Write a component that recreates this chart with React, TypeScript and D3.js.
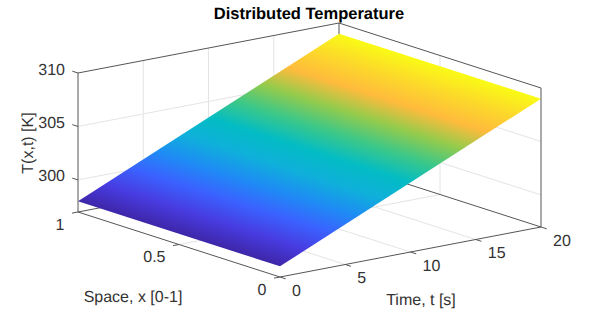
import React from 'react';
import * as d3 from 'd3';

const width = 598;
const height = 311;

// values
const timeValues = [0, 1, 2, 3, 4, 5, 6, 7, 8, 9, 10, 11, 12, 13, 14, 15, 16, 17, 18, 19, 20];
const temperature = [298, 298.55, 299.1, 299.65, 300.2, 300.75, 301.3, 301.85, 302.4, 302.95, 303.5, 304.05, 304.6, 305.15, 305.7, 306.25, 306.8, 307.35, 307.9, 308.45, 309];
const spaceRange = [0, 1];
const timeRange = [0, 20];
const tempRange = [297, 310];
const timeTicks = [0, 5, 10, 15, 20];
const spaceTicks = [0, 0.5, 1];
const tempTicks = [300, 305, 310];
const parulaStops = ['#3e26a8', '#483ce1', '#3a62ff', '#1e8cf4', '#0fb0da', '#03bcc4', '#3cc888', '#94cb4c', '#ffbb3c', '#fcd92a', '#f9fb15'];

const origin = { x: 280, y: 277 };

// orthographic view, each axis gets its own pair of screen scales
const tX = d3.scaleLinear().domain(timeRange).range([0, 261]);
const tY = d3.scaleLinear().domain(timeRange).range([0, -50]);
const sX = d3.scaleLinear().domain(spaceRange).range([0, -202]);
const sY = d3.scaleLinear().domain(spaceRange).range([0, -65]);
const zY = d3.scaleLinear().domain(tempRange).range([0, -139]);

type P = [number, number];
const project = (t: number, s: number, z: number): P => [
  origin.x + tX(t) + sX(s),
  origin.y + tY(t) + sY(s) + zY(z),
];

const tMin = timeRange[0], tMax = timeRange[1];
const sMin = spaceRange[0], sMax = spaceRange[1];
const zMin = tempRange[0], zMax = tempRange[1];

const line = d3.line<P>();

const colorDomain = d3.extent(temperature) as [number, number];
const colorT = d3.scaleLinear().domain(colorDomain).range([0, 1]);
const parula = d3.scaleLinear<string>()
  .domain(parulaStops.map((_, i) => i / (parulaStops.length - 1)))
  .range(parulaStops)
  .interpolate(d3.interpolateRgb);

// surface gradient runs across the space direction on screen
const p0 = project(tMin, sMin, temperature[0]);
const p1 = project(tMax, sMin, temperature[temperature.length - 1]);
const pS = project(tMin, sMax, temperature[0]);
const ux = pS[0] - p0[0], uy = pS[1] - p0[1];
const k = ((p1[0] - p0[0]) * ux + (p1[1] - p0[1]) * uy) / (ux * ux + uy * uy);
const gradEnd: P = [p1[0] - k * ux, p1[1] - k * uy];

const surface: P[] = [
  project(tMin, sMin, temperature[0]),
  project(tMax, sMin, temperature[temperature.length - 1]),
  project(tMax, sMax, temperature[temperature.length - 1]),
  project(tMin, sMax, temperature[0]),
];

const gridLines: P[][] = [
  // floor
  ...timeTicks.slice(1, -1).map(t => [project(t, sMin, zMin), project(t, sMax, zMin)]),
  ...spaceTicks.slice(1, -1).map(s => [project(tMin, s, zMin), project(tMax, s, zMin)]),
  // wall at x = 1
  ...timeTicks.slice(1, -1).map(t => [project(t, sMax, zMin), project(t, sMax, zMax)]),
  ...tempTicks.slice(0, -1).map(z => [project(tMin, sMax, z), project(tMax, sMax, z)]),
  // wall at t = 20
  ...spaceTicks.slice(1, -1).map(s => [project(tMax, s, zMin), project(tMax, s, zMax)]),
  ...tempTicks.slice(0, -1).map(z => [project(tMax, sMin, z), project(tMax, sMax, z)]),
];

const backEdges: P[][] = [
  [project(tMin, sMax, zMin), project(tMax, sMax, zMin)],
  [project(tMax, sMax, zMin), project(tMax, sMin, zMin)],
  [project(tMax, sMax, zMin), project(tMax, sMax, zMax)],
  [project(tMin, sMax, zMax), project(tMax, sMax, zMax)],
  [project(tMax, sMax, zMax), project(tMax, sMin, zMax)],
];

const frontEdges: P[][] = [
  [project(tMin, sMax, zMin), project(tMin, sMin, zMin)],
  [project(tMin, sMin, zMin), project(tMax, sMin, zMin)],
  [project(tMin, sMax, zMin), project(tMin, sMax, zMax)],
  [project(tMax, sMin, zMin), project(tMax, sMin, zMax)],
];

// tick marks run along the other floor axis, 6px or so
const tDirX = 6 / 261 * 20, sDirX = 6 / 212;
const tickLines: P[][] = [
  ...timeTicks.map(t => [project(t, sMin, zMin), project(t, sMin - sDirX, zMin)]),
  ...spaceTicks.map(s => [project(tMin, s, zMin), project(tMin - tDirX, s, zMin)]),
  ...tempTicks.map(z => [project(tMin, sMax, z), project(tMin, sMax + sDirX, z)]),
];

const textStyle: React.CSSProperties = {
  fontFamily: '"Liberation Sans", Arial, sans-serif',
  fontSize: 16,
  textRendering: 'geometricPrecision',
};

export default function App() {
  return (
    <svg width={width} height={height} viewBox={`0 0 ${width} ${height}`}
      style={{ position: 'absolute', left: 0, top: 0, background: '#fff' }}>
      <defs>
        <linearGradient id="surfaceFill" gradientUnits="userSpaceOnUse"
          x1={p0[0]} y1={p0[1]} x2={gradEnd[0]} y2={gradEnd[1]}>
          {timeValues.map((t, i) => (
            <stop key={t} offset={i / (timeValues.length - 1)} stopColor={parula(colorT(temperature[i]))} />
          ))}
        </linearGradient>
      </defs>

      {gridLines.map((d, i) => (
        <path key={i} d={line(d) ?? ''} fill="none" stroke="#e4e4e4" strokeWidth={1} />
      ))}
      {backEdges.map((d, i) => (
        <path key={i} d={line(d) ?? ''} fill="none" stroke="#555" strokeWidth={1} />
      ))}

      <path d={(line(surface) ?? '') + 'Z'} fill="url(#surfaceFill)" />

      {frontEdges.map((d, i) => (
        <path key={i} d={line(d) ?? ''} fill="none" stroke="#555" strokeWidth={1} />
      ))}
      {tickLines.map((d, i) => (
        <path key={i} d={line(d) ?? ''} fill="none" stroke="#555" strokeWidth={1} />
      ))}

      {timeTicks.map(t => {
        const [x, y] = project(t, sMin, zMin);
        return <text key={t} x={x + 12} y={y + 14} dominantBaseline="central" fill="#333" style={textStyle}>{t}</text>;
      })}
      {spaceTicks.map(s => {
        const [x, y] = project(tMin, s, zMin);
        return <text key={s} x={x - 13.5} y={y + 13} textAnchor="end" dominantBaseline="central" fill="#333" style={textStyle}>{s}</text>;
      })}
      {tempTicks.map(z => {
        const [x, y] = project(tMin, sMax, z);
        return <text key={z} x={x - 13} y={y - 3} textAnchor="end" dominantBaseline="central" fill="#333" style={textStyle}>{z}</text>;
      })}

      <text x={309} y={14} textAnchor="middle" dominantBaseline="central" fontWeight="bold" fill="#000"
        style={{ ...textStyle, fontSize: 16.5 }}>Distributed Temperature</text>
      <text x={133} y={297} textAnchor="middle" dominantBaseline="central" fill="#333" style={textStyle}>Space, x [0-1]</text>
      <text x={421} y={300} textAnchor="middle" dominantBaseline="central" fill="#333" style={textStyle}>Time, t [s]</text>
      <text transform="translate(28,143) rotate(-90)" textAnchor="middle" dominantBaseline="central" fill="#333" style={textStyle}>T(x,t) [K]</text>
    </svg>
  );
}
